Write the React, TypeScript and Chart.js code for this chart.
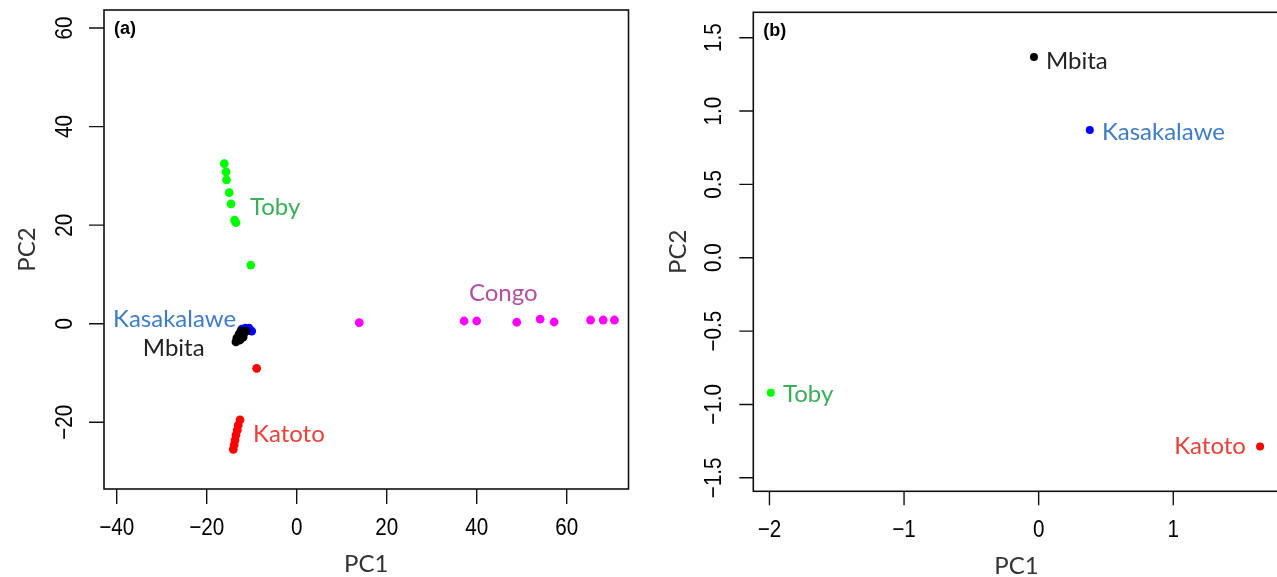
import React, { useEffect, useRef } from "react";
import { Chart, registerables } from "chart.js";
Chart.register(...registerables);

// ---------- Panel (a) data: PC1 / PC2 per population ----------
const aTobyX = [-16.1, -15.7, -15.6, -15.0, -14.6, -13.8, -13.5, -10.2];
const aTobyY = [32.5, 30.8, 29.2, 26.6, 24.3, 21.0, 20.5, 11.9];
const aKasakalaweX = [-12.2, -11.4, -10.6, -10.0];
const aKasakalaweY = [-1.1, -0.9, -0.9, -1.5];
const aMbitaX = [-13.5, -13.3, -12.8, -12.4, -11.7, -11.3, -12.6, -11.9, -13.0];
const aMbitaY = [-3.7, -2.9, -2.1, -1.5, -1.9, -1.5, -3.3, -2.7, -3.0];
const aKatotoX = [-8.9, -12.6, -13.0, -13.2, -13.5, -13.7, -13.9, -14.1];
const aKatotoY = [-9.05, -19.5, -20.6, -21.6, -22.6, -23.6, -24.6, -25.5];
const aCongoX = [13.9, 37.2, 40.0, 48.9, 54.1, 57.2, 65.3, 68.1, 70.6];
const aCongoY = [0.2, 0.55, 0.55, 0.3, 0.95, 0.35, 0.75, 0.75, 0.75];

// ---------- Panel (b) data: population means ----------
const bPopulations = ["Mbita", "Kasakalawe", "Toby", "Katoto"];
const bPC1 = [-0.035, 0.38, -1.99, 1.645];
const bPC2 = [1.368, 0.87, -0.92, -1.286];

// ---------- Tick values ----------
const aXTicks = [-40, -20, 0, 20, 40, 60];
const aYTicks = [-20, 0, 20, 40, 60];
const bXTicks = [-2, -1, 0, 1];
const bYTicks = [-1.5, -1.0, -0.5, 0.0, 0.5, 1.0, 1.5];

const fmtInt = (v: number) => (v < 0 ? "\u2212" + Math.abs(v) : String(v));
const fmtDec = (v: number) => (v < 0 ? "\u2212" + Math.abs(v).toFixed(1) : v.toFixed(1));

const COL = {
  toby: "#00ff00",
  kasa: "#0000ff",
  mbita: "#000000",
  katoto: "#ff0000",
  congo: "#ff00ff",
};
const LABEL_COL = {
  toby: "#3aae5a",
  kasa: "#3f7cc6",
  mbita: "#222222",
  katoto: "#e8403a",
  congo: "#b0509e",
};

const pts = (xs: number[], ys: number[]) => xs.map((x, i) => ({ x, y: ys[i] }));

const TICK_FONT = '24px "Liberation Sans", Arial, sans-serif';
const TICK_SQUEEZE = 0.86;
const TEXT_FONT = '24px Lato, "Open Sans", sans-serif';

const rAxesPlugin = {
  id: "rAxes",
  afterDraw(chart: any, _args: any, o: any) {
    const ctx = chart.ctx as CanvasRenderingContext2D;
    const { left, right, top, bottom } = chart.chartArea;
    const xs = chart.scales.x;
    const ys = chart.scales.y;
    ctx.save();
    // box
    ctx.strokeStyle = "#111";
    ctx.lineWidth = 1.6;
    ctx.strokeRect(left, top, right - left, bottom - top);
    // ticks
    ctx.lineWidth = 1.4;
    ctx.beginPath();
    o.xTicks.forEach((v: number) => {
      const px = xs.getPixelForValue(v);
      ctx.moveTo(px, bottom);
      ctx.lineTo(px, bottom + o.tickLen);
    });
    o.yTicks.forEach((v: number) => {
      const py = ys.getPixelForValue(v);
      ctx.moveTo(left, py);
      ctx.lineTo(left - o.tickLen, py);
    });
    ctx.stroke();
    // tick labels
    ctx.fillStyle = "#000";
    ctx.font = TICK_FONT;
    ctx.textAlign = "center";
    ctx.textBaseline = "middle";
    o.xTicks.forEach((v: number, i: number) => {
      ctx.save();
      ctx.translate(xs.getPixelForValue(v), bottom + 39);
      ctx.scale(TICK_SQUEEZE, 1);
      ctx.fillText(o.xLabels[i], 0, 0);
      ctx.restore();
    });
    o.yTicks.forEach((v: number, i: number) => {
      ctx.save();
      ctx.translate(left - 39, ys.getPixelForValue(v));
      ctx.rotate(-Math.PI / 2);
      ctx.scale(TICK_SQUEEZE, 1);
      ctx.fillText(o.yLabels[i], 0, 0);
      ctx.restore();
    });
    // axis titles
    ctx.font = TEXT_FONT;
    ctx.fillStyle = "#333";
    ctx.fillText(o.xTitle, (left + right) / 2, bottom + 75);
    ctx.save();
    ctx.translate(left - o.yTitleOff, (top + bottom) / 2);
    ctx.rotate(-Math.PI / 2);
    ctx.fillText(o.yTitle, 0, 0);
    ctx.restore();
    // panel tag
    ctx.font = 'bold 18px "Liberation Sans", Arial, sans-serif';
    ctx.fillStyle = "#000";
    ctx.textAlign = "left";
    ctx.fillText(o.tag, left + 10, top + 19);
    // annotations
    ctx.font = TEXT_FONT;
    o.notes.forEach((n: any) => {
      ctx.fillStyle = n.color;
      ctx.textAlign = n.align;
      ctx.fillText(n.text, xs.getPixelForValue(n.x), ys.getPixelForValue(n.y));
    });
    ctx.restore();
  },
};

function makeChart(canvas: HTMLCanvasElement, cfg: any) {
  return new Chart(canvas, {
    type: "scatter",
    data: { datasets: cfg.datasets },
    options: {
      responsive: false,
      animation: false,
      devicePixelRatio: 1,
      events: [],
      layout: { padding: cfg.padding },
      scales: {
        x: { type: "linear", display: false, min: cfg.xMin, max: cfg.xMax },
        y: { type: "linear", display: false, min: cfg.yMin, max: cfg.yMax },
      },
      plugins: {
        legend: { display: false },
        tooltip: { enabled: false },
        rAxes: cfg.axes,
      } as any,
    },
    plugins: [rAxesPlugin],
  } as any);
}

const ds = (xs: number[], ys: number[], color: string, r: number) => ({
  data: pts(xs, ys),
  backgroundColor: color,
  borderColor: color,
  borderWidth: 0,
  pointRadius: r,
  pointHoverRadius: r,
});

export default function App() {
  const refA = useRef<HTMLCanvasElement>(null);
  const refB = useRef<HTMLCanvasElement>(null);

  useEffect(() => {
    const rA = 4.4;
    const chartA = makeChart(refA.current!, {
      datasets: [
        ds(aMbitaX, aMbitaY, COL.mbita, rA),
        ds(aKasakalaweX, aKasakalaweY, COL.kasa, rA),
        ds(aTobyX, aTobyY, COL.toby, rA),
        ds(aKatotoX, aKatotoY, COL.katoto, rA),
        ds(aCongoX, aCongoY, COL.congo, rA),
      ],
      padding: { left: 104, right: 11.5, top: 10, bottom: 88 },
      xMin: -42.82,
      xMax: 73.73,
      yMin: -33.54,
      yMax: 63.66,
      axes: {
        xTicks: aXTicks,
        yTicks: aYTicks,
        xLabels: aXTicks.map(fmtInt),
        yLabels: aYTicks.map(fmtInt),
        tickLen: 15,
        xTitle: "PC1",
        yTitle: "PC2",
        yTitleOff: 77,
        tag: "(a)",
        notes: [
          { text: "Toby", x: -10.4, y: 23.7, color: LABEL_COL.toby, align: "left" },
          { text: "Congo", x: 45.9, y: 6.2, color: LABEL_COL.congo, align: "center" },
          { text: "Kasakalawe", x: -40.8, y: 1.0, color: LABEL_COL.kasa, align: "left" },
          { text: "Mbita", x: -34.2, y: -4.9, color: LABEL_COL.mbita, align: "left" },
          { text: "Katoto", x: -9.7, y: -22.4, color: LABEL_COL.katoto, align: "left" },
        ],
      },
    });

    const rB = 4;
    const bColors = [COL.mbita, COL.kasa, COL.toby, COL.katoto];
    const chartB = makeChart(refB.current!, {
      datasets: bPopulations.map((_, i) => ds([bPC1[i]], [bPC2[i]], bColors[i], rB)),
      padding: { left: 113.3, right: 20.4, top: 12.3, bottom: 85.7 },
      xMin: -2.12,
      xMax: 1.79,
      yMin: -1.592,
      yMax: 1.673,
      axes: {
        xTicks: bXTicks,
        yTicks: bYTicks,
        xLabels: bXTicks.map(fmtInt),
        yLabels: bYTicks.map(fmtDec),
        tickLen: 14,
        xTitle: "PC1",
        yTitle: "PC2",
        yTitleOff: 75,
        tag: "(b)",
        notes: [
          { text: bPopulations[0], x: 0.054, y: 1.341, color: LABEL_COL.mbita, align: "left" },
          { text: bPopulations[1], x: 0.47, y: 0.857, color: LABEL_COL.kasa, align: "left" },
          { text: bPopulations[2], x: -1.9, y: -0.929, color: LABEL_COL.toby, align: "left" },
          { text: bPopulations[3], x: 1.54, y: -1.288, color: LABEL_COL.katoto, align: "right" },
        ],
      },
    });

    let alive = true;
    const fs: any = (document as any).fonts;
    if (fs && fs.load) {
      Promise.all([fs.load(TEXT_FONT), fs.load(TICK_FONT)]).then(() => {
        if (alive) {
          chartA.draw();
          chartB.draw();
        }
      });
    }
    return () => {
      alive = false;
      chartA.destroy();
      chartB.destroy();
    };
  }, []);

  return (
    <div
      style={{
        position: "fixed",
        left: 0,
        top: 0,
        width: 1277,
        height: 577,
        overflow: "hidden",
        background: "#fff",
      }}
    >
      <canvas
        ref={refA}
        width={640}
        height={577}
        style={{ position: "absolute", left: 0, top: 0 }}
      />
      <canvas
        ref={refB}
        width={660}
        height={577}
        style={{ position: "absolute", left: 640, top: 0 }}
      />
    </div>
  );
}
